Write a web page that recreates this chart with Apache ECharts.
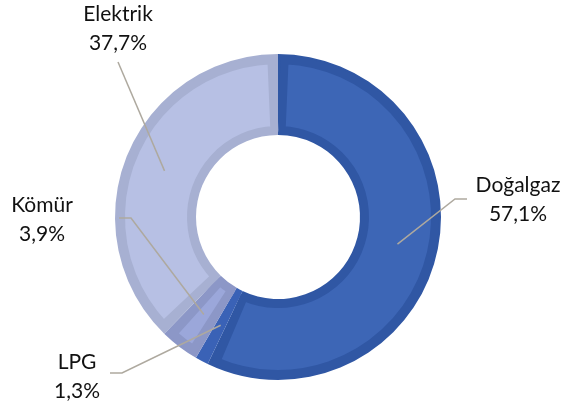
<!DOCTYPE html>
<html>
<head>
<meta charset="utf-8">
<script src="https://cdn.jsdelivr.net/npm/echarts@6/dist/echarts.min.js"></script>
<style>
  html, body { margin: 0; padding: 0; background: #fff; }
  #chart { width: 565px; height: 405px; }
</style>
</head>
<body>
<div id="chart"></div>
<script>
// Energy source shares (%)
const categories = ['Doğalgaz', 'LPG', 'Kömür', 'Elektrik'];
const shares = [57.1, 1.3, 3.9, 37.7];

// Slice colours: rim (outer band) and face (inner fill)
const rimColors = ['#3057A4', '#3A62B6', '#8C97C7', '#A7B0D2'];
const faceColors = ['#3D66B6', '#4670C4', '#9BA7DA', '#B7C0E4'];

// Label block centres and leader elbows (elbow, end)
const labelPos = [[518, 200], [77, 377], [42, 220], [118, 29]];
const leaderEnds = [
  [[455, 199], [467, 199]],
  [[122, 373], [110, 373]],
  [[131, 218], [119, 218]],
  [[118, 62], [118, 62]]
];

const CX = 278, CY = 217, R_IN = 82, R_OUT = 163;
const R_MID = (R_IN + R_OUT) / 2;

// mid-angle anchor inside each slice (clockwise from 12 o'clock)
const total = shares.reduce((a, b) => a + b, 0);
const anchors = [];
let acc = 0;
shares.forEach(v => {
  const mid = (acc + v / 2) / total * 2 * Math.PI;
  anchors.push([CX + R_MID * Math.sin(mid), CY - R_MID * Math.cos(mid)]);
  acc += v;
});

const fmt = v => v.toFixed(1).replace('.', ',') + '%';

const chart = echarts.init(document.getElementById('chart'), null, { renderer: 'canvas' });

// leader lines from the middle of each slice to its label
const leaders = anchors.map((a, i) => ({
  type: 'polyline',
  silent: true,
  z: 10,
  shape: { points: [a, leaderEnds[i][0], leaderEnds[i][1]] },
  style: { stroke: '#AEA99F', lineWidth: 1.5, fill: null }
}));

chart.setOption({
  animation: false,
  backgroundColor: '#ffffff',
  graphic: leaders,
  series: [
    {
      type: 'pie',
      center: [CX, CY],
      radius: [R_IN, R_OUT],
      startAngle: 90,
      clockwise: true,
      silent: true,
      data: categories.map((name, i) => ({
        name, value: shares[i], itemStyle: { color: rimColors[i] }
      })),
      label: {
        show: true,
        position: 'outside',
        formatter: p => p.name + '\n' + fmt(p.value),
        fontFamily: 'Lato',
        fontSize: 21,
        lineHeight: 29,
        color: '#111111',
        align: 'center',
        overflow: 'none'
      },
      labelLine: { show: false },
      labelLayout: params => {
        const i = params.dataIndex;
        return {
          x: labelPos[i][0],
          y: labelPos[i][1],
          align: 'center',
          verticalAlign: 'middle',
          width: 120
        };
      },
      z: 1
    },
    {
      type: 'pie',
      center: [CX, CY],
      radius: [87, 157],
      startAngle: 90,
      clockwise: true,
      padAngle: 4.8,
      silent: true,
      label: { show: false },
      labelLine: { show: false },
      data: categories.map((name, i) => ({
        name, value: shares[i],
        itemStyle: {
          color: faceColors[i],
          borderColor: rimColors[i],
          borderWidth: i === 1 ? 0 : 8
        }
      })),
      z: 2
    }
  ]
});
</script>
</body>
</html>
